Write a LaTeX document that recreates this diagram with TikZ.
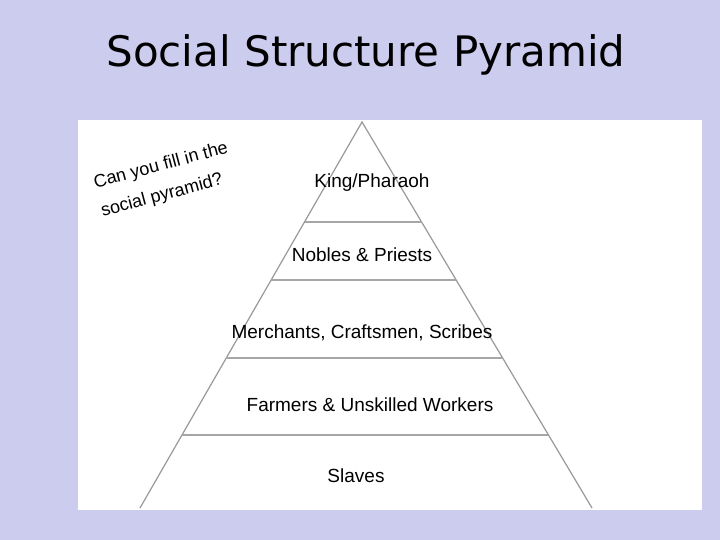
\documentclass[tikz,border=0pt]{standalone}
\usepackage{fontspec}
\setmainfont{Liberation Sans}
\newfontfamily\titlefont{DejaVu Sans}
\begin{document}
\begin{tikzpicture}[x=1pt,y=-1pt,
  lbl/.style={font=\fontsize{19}{22}\selectfont,inner sep=1pt},
  qtxt/.style={rotate=15,inner sep=0pt,font=\fontsize{18}{20}\selectfont},
  tier/.style={draw=gray!70,line width=1.8pt}]
\useasboundingbox (0,0) rectangle (720,540);
\fill[fill={rgb,255:red,204;green,204;blue,238}] (0,0) rectangle (720,540);
\fill[white] (78,120) rectangle (702,510);
\node[font=\titlefont\fontsize{42}{46}\selectfont] (title) at (366,55) {Social Structure Pyramid};
\coordinate (apex) at (362,122);
\coordinate (bl) at (140,508);
\coordinate (br) at (592,508);
\draw[gray!80,line width=1.2pt] (bl) -- (apex) -- (br);
\foreach \y in {222,280,358,435}{
  \pgfmathsetmacro{\xl}{362-0.575*(\y-122)}
  \pgfmathsetmacro{\xr}{362+0.595*(\y-122)}
  \draw[tier] (\xl,\y) -- (\xr,\y);
}
\node[lbl] (k) at (372,183) {King/Pharaoh};
\node[lbl] (n) at (362,255) {Nobles \& Priests};
\node[lbl] (m) at (362,333) {Merchants, Craftsmen, Scribes};
\node[lbl] (f) at (370,405) {Farmers \& Unskilled Workers};
\node[lbl] (s) at (356,476) {Slaves};
\node[qtxt] (q1) at (161,166) {Can you fill in the};
\node[qtxt] (q2) at (162,196) {social pyramid?};
\end{tikzpicture}
\end{document}
